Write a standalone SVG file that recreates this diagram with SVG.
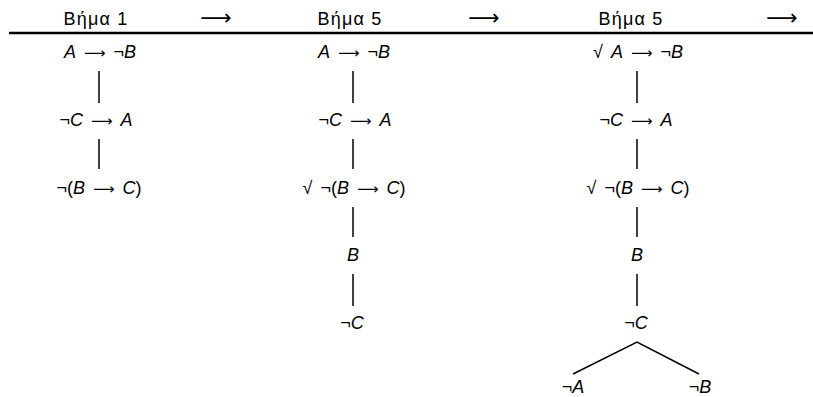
<svg xmlns="http://www.w3.org/2000/svg" width="813" height="397" viewBox="0 0 813 397">
<style>
text{font-family:"Liberation Sans","DejaVu Sans",sans-serif;font-size:18px;fill:#000;text-anchor:middle;word-spacing:3px}
.i{font-style:italic}
.ar{font-family:"DejaVu Sans",sans-serif;font-size:15px}
.hdr{word-spacing:0;letter-spacing:1.2px}
.har{font-family:"DejaVu Sans",sans-serif;font-size:22px}
.ln{stroke:#000;stroke-width:1.5;fill:none}
.rule{stroke:#000;stroke-width:2.4}
</style>
<rect width="813" height="397" fill="#fff"/>
<g id="header">
<text class="hdr" x="96" y="25">Βήμα 1</text>
<text class="har" x="216" y="25">⟶</text>
<text class="hdr" x="350" y="25">Βήμα 5</text>
<text class="har" x="484" y="25">⟶</text>
<text class="hdr" x="631" y="25">Βήμα 5</text>
<text class="har" x="782" y="25">⟶</text>
<line class="rule" x1="9" y1="33" x2="813" y2="33"/>
</g>
<g id="col1">
<g id="n1a"><text x="100" y="58"><tspan class="i">A</tspan> <tspan class="ar">⟶</tspan> ¬<tspan class="i">B</tspan></text></g>
<g id="n1b"><text x="96" y="126">¬<tspan class="i">C</tspan> <tspan class="ar">⟶</tspan> <tspan class="i">A</tspan></text></g>
<g id="n1c"><text x="99" y="194">¬(<tspan class="i">B</tspan> <tspan class="ar">⟶</tspan> <tspan class="i">C</tspan>)</text></g>
</g>
<g id="col2">
<g id="n2a"><text x="354" y="58"><tspan class="i">A</tspan> <tspan class="ar">⟶</tspan> ¬<tspan class="i">B</tspan></text></g>
<g id="n2b"><text x="355" y="126">¬<tspan class="i">C</tspan> <tspan class="ar">⟶</tspan> <tspan class="i">A</tspan></text></g>
<g id="n2c"><text x="354" y="194">√ ¬(<tspan class="i">B</tspan> <tspan class="ar">⟶</tspan> <tspan class="i">C</tspan>)</text></g>
<g id="n2d"><text class="i" x="353" y="261">B</text></g>
<g id="n2e"><text x="352" y="329">¬<tspan class="i">C</tspan></text></g>
</g>
<g id="col3">
<g id="n3a"><text x="638" y="58">√ <tspan class="i">A</tspan> <tspan class="ar">⟶</tspan> ¬<tspan class="i">B</tspan></text></g>
<g id="n3b"><text x="636" y="126">¬<tspan class="i">C</tspan> <tspan class="ar">⟶</tspan> <tspan class="i">A</tspan></text></g>
<g id="n3c"><text x="638" y="194">√ ¬(<tspan class="i">B</tspan> <tspan class="ar">⟶</tspan> <tspan class="i">C</tspan>)</text></g>
<g id="n3d"><text class="i" x="637" y="261">B</text></g>
<g id="n3e"><text x="636" y="329">¬<tspan class="i">C</tspan></text></g>
<g id="n3f"><text x="573" y="393">¬<tspan class="i">A</tspan></text></g>
<g id="n3g"><text x="700" y="393">¬<tspan class="i">B</tspan></text></g>
</g>
<g id="connectors">
<line class="ln" x1="99" y1="71" x2="99" y2="103"/>
<line class="ln" x1="99" y1="139" x2="99" y2="169"/>
<line class="ln" x1="353" y1="71" x2="353" y2="103"/>
<line class="ln" x1="353" y1="139" x2="353" y2="169"/>
<line class="ln" x1="353" y1="207" x2="353" y2="237"/>
<line class="ln" x1="353" y1="274" x2="353" y2="306"/>
<line class="ln" x1="637" y1="71" x2="637" y2="103"/>
<line class="ln" x1="637" y1="139" x2="637" y2="169"/>
<line class="ln" x1="637" y1="207" x2="637" y2="237"/>
<line class="ln" x1="637" y1="274" x2="637" y2="306"/>
<polyline class="ln" points="573,374 637,342 699,374"/>
</g>
</svg>
